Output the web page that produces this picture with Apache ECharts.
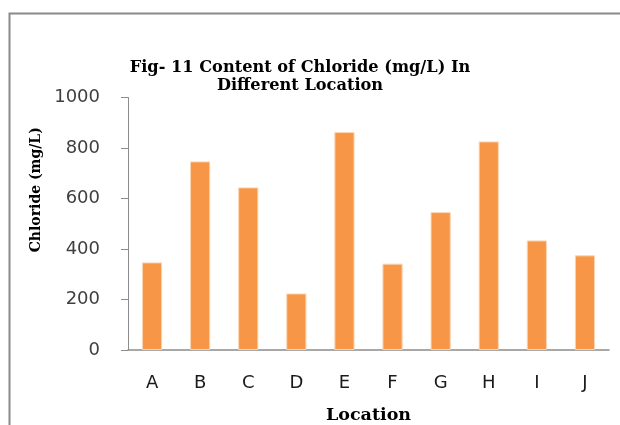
<!DOCTYPE html>
<html><head><meta charset="utf-8">
<script src="https://cdn.jsdelivr.net/npm/echarts@6/dist/echarts.min.js"></script>
<style>html,body{margin:0;padding:0;background:#fff}#c{width:620px;height:425px}</style>
</head><body><div id="c"></div>
<script>
var categories = ['A','B','C','D','E','F','G','H','I','J'];
var chloride = [347, 747, 644, 224, 863, 342, 546, 826, 434, 375];
var yTicks = [0, 200, 400, 600, 800, 1000];
var chart = echarts.init(document.getElementById('c'), null, {renderer:'canvas'});
chart.setOption({
  animation:false,
  backgroundColor:'#fff',
  graphic:[{type:'rect', shape:{x:9.5,y:13.5,width:640,height:440}, style:{fill:'none', stroke:'#8a8a8a', lineWidth:2}, z:-1}],
  title:{text:'Fig- 11 Content of Chloride (mg/L) In\nDifferent Location', left:295, top:54, textAlign:'center',
    textStyle:{fontFamily:'DejaVu Serif', fontWeight:'bold', fontSize:16.2, color:'#000', lineHeight:18}},
  grid:{left:128, right:11, top:97.5, bottom:75, containLabel:false, outerBoundsMode:'none'},
  xAxis:{type:'category', data:categories, name:'Location', nameLocation:'middle', nameGap:56,
    nameTextStyle:{fontFamily:'DejaVu Serif', fontWeight:'bold', fontSize:17.5, color:'#000'},
    axisLine:{lineStyle:{color:'#8c8c8c', width:1.5}}, axisTick:{show:false},
    axisLabel:{fontFamily:'DejaVu Sans', fontSize:18, color:'#1a1a1a', margin:24}},
  yAxis:{type:'value', min:yTicks[0], max:yTicks[yTicks.length-1], interval:yTicks[1]-yTicks[0], name:'Chloride (mg/L)', nameLocation:'middle', nameGap:82,
    nameTextStyle:{fontFamily:'DejaVu Serif', fontWeight:'bold', fontSize:14, color:'#000', padding:[0,0,0,68]},
    axisLine:{show:true, lineStyle:{color:'#8c8c8c', width:1}}, axisTick:{show:true, inside:false, length:7, lineStyle:{color:'#8c8c8c'}},
    splitLine:{show:false},
    axisLabel:{fontFamily:'DejaVu Sans', fontSize:18, color:'#404040', margin:28, formatter:function(v){return String(v);}}},
  series:[{type:'bar', data:chloride, barWidth:'42%',
    itemStyle:{color:'#F79646', borderColor:'#fcd5b4', borderWidth:1}}]
});
</script></body></html>
